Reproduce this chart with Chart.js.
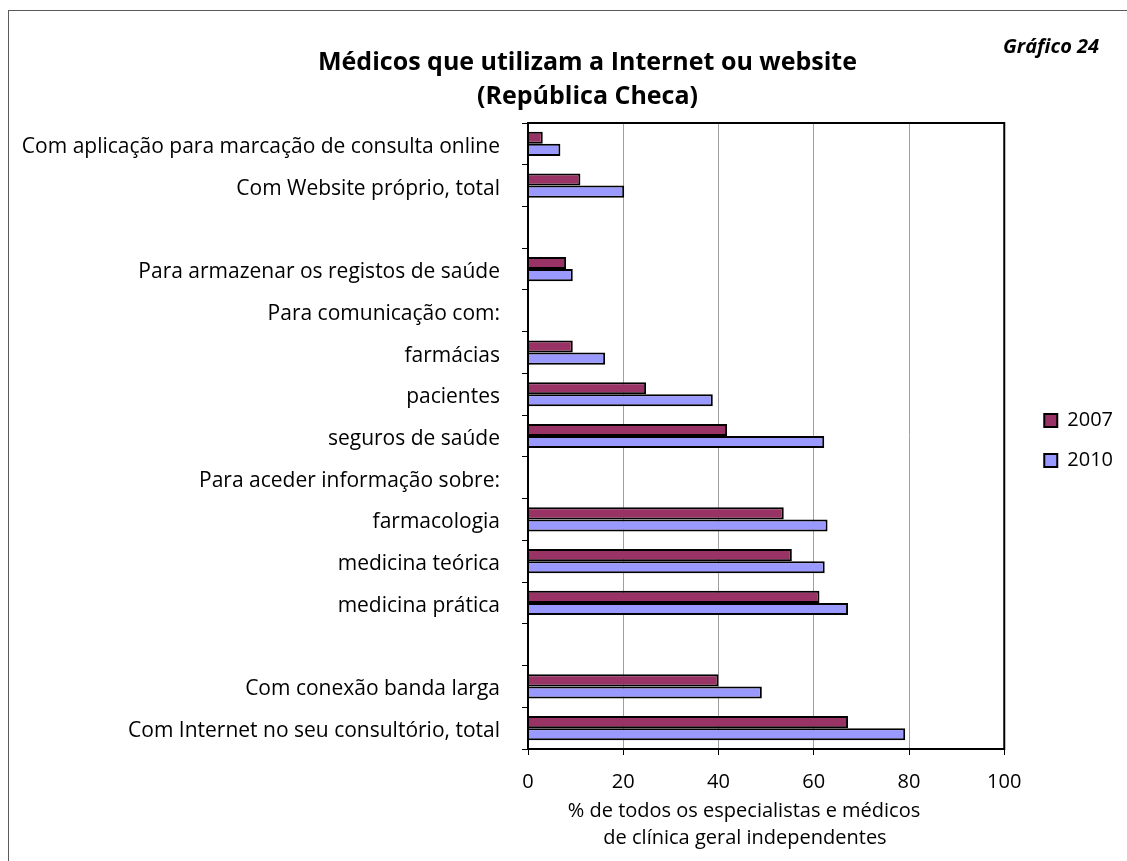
<!DOCTYPE html>
<html>
<head>
<meta charset="utf-8">
<script src="https://cdn.jsdelivr.net/npm/chart.js@4.4.0/dist/chart.umd.min.js"></script>
<style>
  html, body { margin: 0; padding: 0; background: #fff; overflow: hidden; }
  #wrap { position: relative; width: 1127px; height: 861px; }
  #frame { position: absolute; left: 8px; top: 10px; width: 1300px; height: 1000px; border: 1px solid #5a5a5a; box-sizing: border-box; }
  canvas { position: absolute; left: 0; top: 0; }
</style>
</head>
<body>
<div id="wrap">
  <div id="frame"></div>
  <canvas id="chart" width="1127" height="861"></canvas>
</div>
<script>
// categories top to bottom (blank entries are spacer rows)
const categories = [
  'Com aplicação para marcação de consulta online',
  'Com Website próprio, total',
  '',
  'Para armazenar os registos de saúde',
  'Para comunicação com:',
  'farmácias',
  'pacientes',
  'seguros de saúde',
  'Para aceder informação sobre:',
  'farmacologia',
  'medicina teórica',
  'medicina prática',
  '',
  'Com conexão banda larga',
  'Com Internet no seu consultório, total'
];
const values2007 = [3.1, 11.0, null, 8.0, null, 9.4, 24.8, 41.8, null, 53.7, 55.4, 61.2, null, 40.0, 67.2];
const values2010 = [6.8, 20.2, null, 9.4, null, 16.2, 38.8, 62.2, null, 62.9, 62.3, 67.2, null, 49.1, 79.2];
const seriesNames = ['2007', '2010'];
const xTicks = [0, 20, 40, 60, 80, 100];
const xTitle = ['% de todos os especialistas e médicos', 'de clínica geral independentes'];

const FONT = '"Open Sans", sans-serif';

// layout nudges, black frame round the plot, axis title and the "Gráfico 24" tag
const framePlugin = {
  id: 'framePlugin',
  afterLayout(chart) {
    const lg = chart.legend;
    if (lg) { lg.left += 20; lg.right += 20; lg.top += 10; lg.bottom += 10; }
    const tb = chart.titleBlock;
    if (tb) { tb.left += 31; tb.right += 31; }
  },
  afterDatasetsDraw(chart) {
    const { ctx, chartArea: a } = chart;
    ctx.save();
    ctx.strokeStyle = '#000';
    ctx.lineWidth = 2;
    ctx.strokeRect(a.left, a.top, a.right - a.left, a.bottom - a.top);
    ctx.restore();
  },
  afterDraw(chart) {
    const { ctx } = chart;
    ctx.save();
    ctx.fillStyle = '#000';
    ctx.textBaseline = 'middle';
    ctx.font = 'italic bold 20px ' + FONT;
    ctx.textAlign = 'left';
    ctx.fillText('Gráfico 24', 1003, 47);
    ctx.font = '20px ' + FONT;
    ctx.textAlign = 'center';
    ctx.fillText(xTitle[0], 744, 811);
    ctx.fillText(xTitle[1], 745, 838);
    ctx.restore();
  }
};

new Chart(document.getElementById('chart'), {
  type: 'bar',
  data: {
    labels: categories,
    datasets: [
      {
        label: seriesNames[0],
        data: values2007,
        backgroundColor: '#993366',
        borderColor: '#000',
        borderWidth: 2,
        categoryPercentage: 0.58,
        barPercentage: 1.0,
      },
      {
        label: seriesNames[1],
        data: values2010,
        backgroundColor: '#9999FF',
        borderColor: '#000',
        borderWidth: 2,
        categoryPercentage: 0.58,
        barPercentage: 1.0,
      }
    ]
  },
  options: {
    indexAxis: 'y',
    responsive: false,
    animation: false,
    layout: { padding: { left: 10, right: 24, top: 0, bottom: 0 } },
    plugins: {
      title: {
        display: true,
        text: ['Médicos que utilizam a Internet ou website', '(República Checa)'],
        color: '#000',
        font: { family: FONT, size: 25, weight: 'bold', lineHeight: 1.36 },
        padding: { top: 46, bottom: 9 },
      },
      legend: {
        position: 'right',
        labels: {
          color: '#000',
          font: { family: FONT, size: 20 },
          boxWidth: 13,
          boxHeight: 13,
          padding: 20,
        }
      },
      tooltip: { enabled: false },
    },
    scales: {
      x: {
        min: 0,
        max: 100,
        afterFit: s => { s.height = 112; },
        afterBuildTicks: s => { s.ticks = xTicks.map(v => ({ value: v })); },
        grid: {
          color: '#a0a0a0',
          lineWidth: 1,
          tickColor: '#000',
          tickLength: 6,
        },
        border: { color: '#000', width: 2 },
        ticks: { color: '#000', font: { family: FONT, size: 20 }, padding: 15, maxRotation: 0 },
      },
      y: {
        afterFit: s => { s.width = 518; },
        grid: {
          drawOnChartArea: false,
          tickColor: '#000',
          tickLength: 6,
          offset: true,
        },
        border: { color: '#000', width: 2 },
        ticks: { color: '#000', font: { family: FONT, size: 21 }, padding: 22, labelOffset: 3, autoSkip: false },
      }
    }
  },
  plugins: [framePlugin]
});
</script>
</body>
</html>
